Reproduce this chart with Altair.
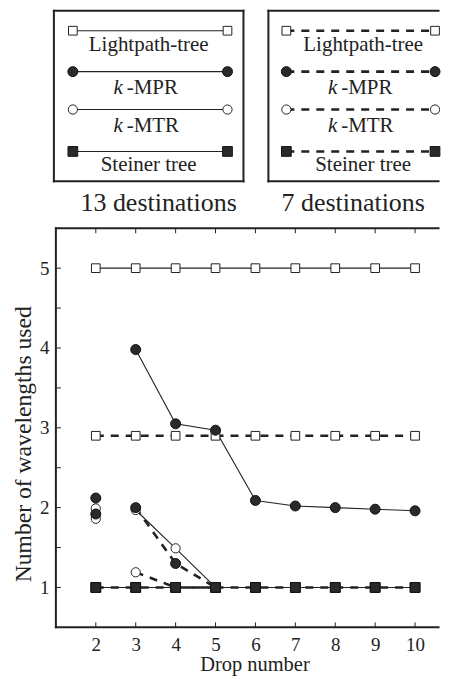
import altair as alt
import pandas as pd

# ---------------- data ----------------
drops = [2, 3, 4, 5, 6, 7, 8, 9, 10]
lightpath_13 = [5, 5, 5, 5, 5, 5, 5, 5, 5]
lightpath_7 = [2.9, 2.9, 2.9, 2.9, 2.9, 2.9, 2.9, 2.9, 2.9]
steiner_13 = [1, 1, 1, 1, 1, 1, 1, 1, 1]
steiner_7 = [1, 1, 1, 1, 1, 1, 1, 1, 1]
mpr_13_drops = [3, 4, 5, 6, 7, 8, 9, 10]
mpr_13 = [3.98, 3.05, 2.97, 2.09, 2.02, 2.00, 1.98, 1.96]
mpr_7_drops = [3, 4, 5]
mpr_7 = [2.00, 1.30, 1.00]
mtr_13_drops = [3, 4, 5]
mtr_13 = [1.97, 1.49, 1.00]
mtr_7_drops = [3, 4, 5]
mtr_7 = [1.19, 1.00, 1.00]
# isolated (unconnected) points at drop number 2
single_drop = [2]
mpr_13_single = [2.12]
mpr_7_single = [1.92]
mtr_13_single = [1.99]
mtr_7_single = [1.86]

series_names = ["Lightpath-tree", "k-MPR", "k-MTR", "Steiner tree"]
group_titles = ["13 destinations", "7 destinations"]
x_ticks = [2, 3, 4, 5, 6, 7, 8, 9, 10]
y_ticks = [1, 2, 3, 4, 5]
y_minor = [1.5, 2.5, 3.5, 4.5]

# ---------------- build tables ----------------
rows = []


def add(series, dest, xs, ys, connected=True):
    for xv, yv in zip(xs, ys):
        rows.append(dict(series=series, dest=dest, x=xv, y=yv, connected=connected))


add("Lightpath-tree", "13", drops, lightpath_13)
add("Lightpath-tree", "7", drops, lightpath_7)
add("k-MPR", "13", mpr_13_drops, mpr_13)
add("k-MPR", "7", mpr_7_drops, mpr_7)
add("k-MTR", "13", mtr_13_drops, mtr_13)
add("k-MTR", "7", mtr_7_drops, mtr_7)
add("Steiner tree", "13", drops, steiner_13)
add("Steiner tree", "7", drops, steiner_7)
add("k-MPR", "13", single_drop, mpr_13_single, False)
add("k-MPR", "7", single_drop, mpr_7_single, False)
add("k-MTR", "13", single_drop, mtr_13_single, False)
add("k-MTR", "7", single_drop, mtr_7_single, False)
df = pd.DataFrame(rows)
df["key"] = df["series"] + "|" + df["dest"]

# scale geometry: the reference's frame runs off the right edge of the page,
# so only the visible part of the x range is drawn (right border not drawn)
X_DOM = [1, 10.625]
Y_DOM = [0.5, 5.5]
W, H = 385, 400
px_x = (X_DOM[1] - X_DOM[0]) / W   # data units per pixel
px_y = (Y_DOM[1] - Y_DOM[0]) / H
x_edge = X_DOM[1] - 1.5 * px_x

# legend layout (expressed in the chart's data units, above the plot)
box_left = [0.95, 6.325]
box_right = [5.70, x_edge]
line_x = [(1.425, 5.30), (6.775, 10.50)]
text_cx = [3.325, 8.70]
title_cx = [3.575, 8.45]
row_y = [7.975, 7.4625, 6.9875, 6.4625]
text_y = [7.80, 7.2625, 6.775, 6.2875]
box_top, box_bottom = 8.225, 6.0875
title_y = 5.8125

leg_rows, leg_text, frame_rows, title_rows = [], [], [], []
for g, gt in enumerate(group_titles):
    dest = "13" if g == 0 else "7"
    xl, xr = box_left[g], box_right[g]
    xc = text_cx[g]
    frame_rows.append(dict(x=xl, x2=xr, y=box_top, y2=box_top))
    frame_rows.append(dict(x=xl, x2=xr, y=box_bottom, y2=box_bottom))
    frame_rows.append(dict(x=xl, x2=xl, y=box_top, y2=box_bottom))
    if g == 0:
        frame_rows.append(dict(x=xr, x2=xr, y=box_top, y2=box_bottom))
    title_rows.append(dict(x=title_cx[g], y=title_y, text=gt))
    for i, s in enumerate(series_names):
        leg_rows.append(dict(series=s, dest=dest, x=line_x[g][0], x2=line_x[g][1], y=row_y[i]))
        if s.startswith("k-"):
            leg_text.append(dict(x=xc - 26 * px_x, y=text_y[i], text="k", kind="k"))
            leg_text.append(dict(x=xc - 22 * px_x, y=text_y[i], text=s[1:], kind="rest"))
        else:
            leg_text.append(dict(x=xc, y=text_y[i], text=s, kind="center"))
# plot frame: left, top, bottom (right side is off the page in the reference)
frame_rows.append(dict(x=X_DOM[0], x2=X_DOM[0], y=Y_DOM[0], y2=Y_DOM[1]))
frame_rows.append(dict(x=X_DOM[0], x2=x_edge, y=Y_DOM[0], y2=Y_DOM[0]))
frame_rows.append(dict(x=X_DOM[0], x2=x_edge, y=Y_DOM[1], y2=Y_DOM[1]))
leg = pd.DataFrame(leg_rows)
leg_pts = pd.concat([
    leg[["series", "dest", "x", "y"]],
    leg[["series", "dest", "x2", "y"]].rename(columns={"x2": "x"}),
])
leg_txt = pd.DataFrame(leg_text)
frames = pd.DataFrame(frame_rows)
titles = pd.DataFrame(title_rows)

# inward ticks
tick_rows = []
for t in x_ticks:
    tick_rows.append(dict(x=t, x2=t, y=Y_DOM[0], y2=Y_DOM[0] + 5 * px_y))
    tick_rows.append(dict(x=t, x2=t, y=Y_DOM[1], y2=Y_DOM[1] - 5 * px_y))
for t in y_ticks + y_minor:
    tick_rows.append(dict(x=X_DOM[0], x2=X_DOM[0] + 5 * px_x, y=t, y2=t))
ticks = pd.DataFrame(tick_rows)

# ---------------- chart ----------------
FONT = "Liberation Serif"
INK = "#222222"
FILL = "#2a2a2a"

xs = alt.Scale(domain=X_DOM, nice=False, zero=False)
ys = alt.Scale(domain=Y_DOM, nice=False, zero=False)

x_axis = alt.Axis(
    values=x_ticks, ticks=False, domain=False, grid=False, title="Drop number",
    labelFont=FONT, labelFontSize=19, labelColor=INK, labelPadding=8,
    titleFont=FONT, titleFontSize=20.5, titleFontWeight="normal", titleColor=INK,
    titlePadding=0, titleX=199, labelFlush=False)
y_axis = alt.Axis(
    values=y_ticks, ticks=False, domain=False, grid=False,
    title="Number of wavelengths used",
    labelFont=FONT, labelFontSize=19, labelColor=INK, labelPadding=7,
    titleFont=FONT, titleFontSize=23.7, titleFontWeight="normal", titleColor=INK,
    titlePadding=4, titleY=216, labelFlush=False)

Xn = alt.X("x:Q", scale=xs, axis=x_axis, title="Drop number")
Yn = alt.Y("y:Q", scale=ys, axis=y_axis, title="Number of wavelengths used")
X2 = alt.X2("x2:Q")
Y2 = alt.Y2("y2:Q")

base = alt.Chart(df).encode(x=Xn, y=Yn)

line13 = base.transform_filter("datum.connected && datum.dest == '13'").mark_line(
    color=INK, strokeWidth=1.1).encode(detail="key:N")
line7 = base.transform_filter("datum.connected && datum.dest == '7'").mark_line(
    color=INK, strokeWidth=2.6, strokeDash=[8, 7]).encode(detail="key:N")


def markers(data):
    b = alt.Chart(data).encode(x=Xn, y=Yn)
    open_sq = b.transform_filter("datum.series == 'Lightpath-tree'").mark_square(
        size=76, fill="white", stroke=INK, strokeWidth=1, opacity=1)
    open_c = b.transform_filter("datum.series == 'k-MTR'").mark_circle(
        size=85, fill="white", stroke=INK, strokeWidth=1, opacity=1)
    fill_c = b.transform_filter("datum.series == 'k-MPR'").mark_circle(
        size=100, fill=FILL, stroke="#111111", strokeWidth=1, opacity=1)
    fill_sq = b.transform_filter("datum.series == 'Steiner tree'").mark_square(
        size=95, fill=FILL, stroke="#111111", strokeWidth=1, opacity=1)
    return [open_sq, open_c, fill_c, fill_sq]


main_marks = markers(df)

tick_layer = alt.Chart(ticks).mark_rule(color=INK, strokeWidth=1).encode(
    x=Xn, x2=X2, y=Yn, y2=Y2)

frame_layer = alt.Chart(frames).mark_rule(
    color=INK, strokeWidth=2, strokeCap="square").encode(x=Xn, x2=X2, y=Yn, y2=Y2)

leg_line13 = alt.Chart(leg).transform_filter("datum.dest == '13'").mark_rule(
    color=INK, strokeWidth=1.1).encode(x=Xn, x2=X2, y=Yn)
leg_line7 = alt.Chart(leg).transform_filter("datum.dest == '7'").mark_rule(
    color=INK, strokeWidth=2.6, strokeDash=[8, 7]).encode(x=Xn, x2=X2, y=Yn)
leg_marks = markers(leg_pts)

txt_center = alt.Chart(leg_txt).transform_filter("datum.kind == 'center'").mark_text(
    font=FONT, fontSize=21, color=INK, align="center", baseline="middle").encode(
    x=Xn, y=Yn, text="text:N")
txt_k = alt.Chart(leg_txt).transform_filter("datum.kind == 'k'").mark_text(
    font=FONT, fontSize=21, fontStyle="italic", color=INK, align="right",
    baseline="middle").encode(x=Xn, y=Yn, text="text:N")
txt_rest = alt.Chart(leg_txt).transform_filter("datum.kind == 'rest'").mark_text(
    font=FONT, fontSize=21, color=INK, align="left", baseline="middle").encode(
    x=Xn, y=Yn, text="text:N")
txt_titles = alt.Chart(titles).mark_text(
    font=FONT, fontSize=26, color=INK, align="center", baseline="middle").encode(
    x=Xn, y=Yn, text="text:N")

chart = alt.layer(
    line13, line7, *main_marks, tick_layer, frame_layer,
    leg_line13, leg_line7, *leg_marks,
    txt_center, txt_k, txt_rest, txt_titles,
).properties(
    width=W, height=H,
    padding={"left": 3, "top": 0, "right": 0, "bottom": 0},
).configure_view(stroke=None)

chart.save("out.html", embed_options={"renderer": "svg", "actions": False})
